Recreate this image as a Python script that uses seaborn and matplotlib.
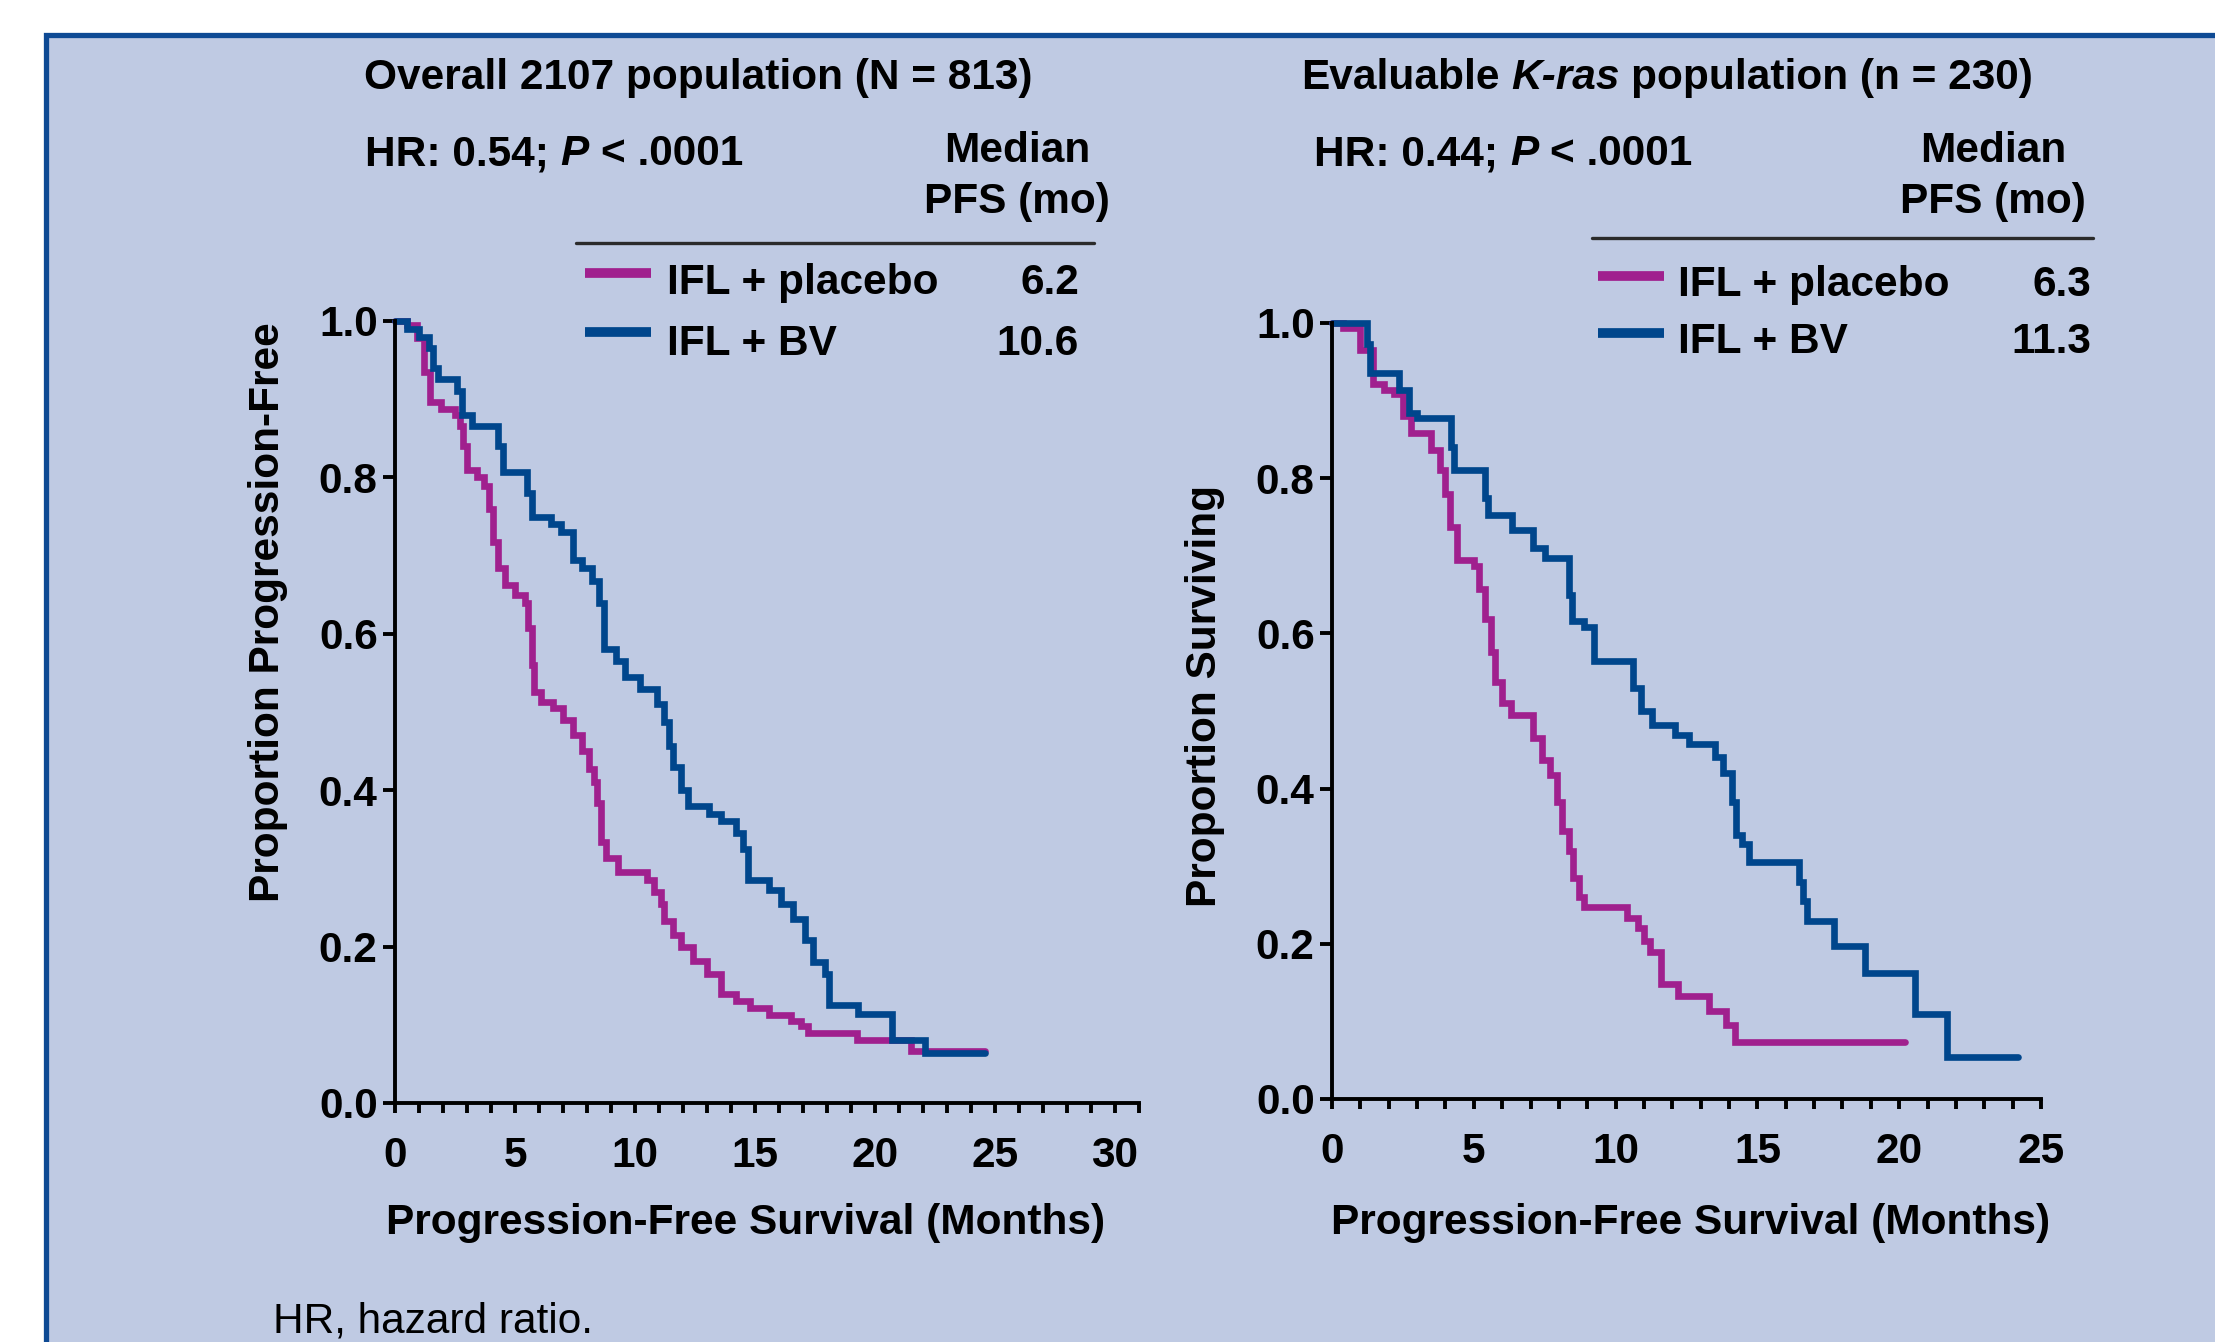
import matplotlib
matplotlib.use("Agg")
import matplotlib.pyplot as plt
import seaborn as sns
import pandas as pd
from matplotlib.patches import Rectangle
from matplotlib.lines import Line2D
from matplotlib.ticker import MultipleLocator, FormatStrFormatter

# ---------------- data ----------------
arm_labels = ["IFL + placebo", "IFL + BV"]

# Overall 2107 population (N = 813)
overall_placebo_t = [0, 0.5, 0.9, 1.2, 1.45, 1.9, 2.5, 2.7, 2.85, 3.0, 3.4, 3.7, 3.9, 4.1, 4.3, 4.6,
                     5.0, 5.4, 5.55, 5.7, 5.8, 6.1, 6.6, 7.0, 7.4, 7.8, 8.1, 8.3, 8.4, 8.6, 8.8, 9.3,
                     10.5, 10.8, 11.1, 11.2, 11.6, 11.9, 12.4, 13.0, 13.6, 14.2, 14.8, 15.6, 16.5,
                     16.9, 17.2, 19.25, 21.5, 24.6]
overall_placebo_s = [1.0, 0.995, 0.978, 0.935, 0.897, 0.888, 0.88, 0.866, 0.84, 0.81, 0.80, 0.789,
                     0.76, 0.718, 0.684, 0.663, 0.65, 0.64, 0.608, 0.56, 0.526, 0.513, 0.505, 0.49,
                     0.47, 0.45, 0.427, 0.41, 0.384, 0.334, 0.313, 0.296, 0.285, 0.27, 0.255, 0.233,
                     0.215, 0.2, 0.182, 0.165, 0.14, 0.13, 0.121, 0.113, 0.105, 0.098, 0.09, 0.08,
                     0.067, 0.067]
overall_bv_t = [0, 0.5, 1.0, 1.4, 1.6, 1.8, 2.6, 2.8, 3.2, 4.3, 4.5, 5.5, 5.7, 6.5, 6.9, 7.4, 7.8,
                8.2, 8.5, 8.7, 9.2, 9.6, 10.2, 10.9, 11.2, 11.4, 11.6, 11.9, 12.2, 13.1, 13.6, 14.2,
                14.5, 14.7, 15.6, 16.1, 16.6, 17.1, 17.4, 17.9, 18.1, 19.3, 20.7, 22.1, 24.6]
overall_bv_s = [1.0, 0.99, 0.98, 0.965, 0.94, 0.926, 0.91, 0.88, 0.866, 0.84, 0.807, 0.78, 0.75,
                0.74, 0.73, 0.695, 0.684, 0.667, 0.64, 0.58, 0.565, 0.545, 0.53, 0.51, 0.487, 0.456,
                0.43, 0.40, 0.38, 0.37, 0.36, 0.345, 0.325, 0.285, 0.273, 0.254, 0.235, 0.208, 0.18,
                0.165, 0.125, 0.114, 0.08, 0.064, 0.064]

# Evaluable K-ras population (n = 230)
kras_placebo_t = [0, 0.4, 1.0, 1.45, 1.85, 2.2, 2.5, 2.8, 3.5, 3.8, 4.0, 4.15, 4.4, 5.0, 5.2, 5.4,
                  5.6, 5.75, 6.0, 6.3, 7.1, 7.4, 7.7, 7.95, 8.1, 8.35, 8.5, 8.7, 8.9, 10.4, 10.8,
                  11.0, 11.2, 11.6, 12.2, 13.3, 13.9, 14.2, 20.2]
kras_placebo_s = [1.0, 0.993, 0.965, 0.922, 0.914, 0.909, 0.88, 0.858, 0.836, 0.811, 0.78, 0.737,
                  0.695, 0.687, 0.657, 0.618, 0.576, 0.537, 0.51, 0.495, 0.465, 0.437, 0.418, 0.383,
                  0.345, 0.32, 0.285, 0.26, 0.248, 0.233, 0.22, 0.203, 0.19, 0.148, 0.133, 0.113,
                  0.096, 0.073, 0.073]
kras_bv_t = [0, 1.25, 1.35, 2.35, 2.7, 3.0, 4.2, 4.3, 5.4, 5.5, 6.35, 7.1, 7.5, 8.35, 8.45, 8.9,
             9.25, 10.6, 10.9, 11.3, 12.1, 12.6, 13.5, 13.8, 14.1, 14.25, 14.45, 14.7, 16.45, 16.6,
             16.75, 17.7, 18.8, 20.55, 21.7, 24.2]
kras_bv_s = [1.0, 0.973, 0.935, 0.914, 0.884, 0.877, 0.84, 0.81, 0.775, 0.752, 0.733, 0.71, 0.697,
             0.65, 0.616, 0.608, 0.565, 0.53, 0.5, 0.482, 0.469, 0.458, 0.441, 0.42, 0.383, 0.34,
             0.328, 0.306, 0.28, 0.255, 0.229, 0.197, 0.163, 0.11, 0.054, 0.054]

overall_medians = ["6.2", "10.6"]
kras_medians = ["6.3", "11.3"]
y_ticks = [0.0, 0.2, 0.4, 0.6, 0.8, 1.0]

# ---------------- style ----------------
W, H = 2215, 1342
BG = "#BFCAE3"
BORDER = "#0E4A94"
MAGENTA = "#A0208E"
BLUE = "#00468C"
FS = 30.5
CURVE_LW = 4.8
AX_LW = 2.8

sns.set_theme(style="ticks")
plt.rcParams["font.family"] = ["Liberation Sans", "DejaVu Sans"]
plt.rcParams["font.weight"] = "bold"

fig = plt.figure(figsize=(W / 100, H / 100), dpi=100)
fig.patch.set_facecolor("white")

def fx(x):
    return x / W

def fy(y):
    return 1 - y / H

bg = Rectangle((fx(46), -0.2), 2.0, fy(35) + 0.2, transform=fig.transFigure,
               facecolor=BG, edgecolor=BORDER, linewidth=3.8, zorder=-10)
fig.add_artist(bg)

def make_axes(x0, x1, ytop, ybot, xmax, t_p, s_p, t_b, s_b):
    ax = fig.add_axes([fx(x0), fy(ybot), fx(x1) - fx(x0), fy(ytop) - fy(ybot)])
    ax.set_facecolor("none")
    df = pd.concat([
        pd.DataFrame({"t": t_p, "s": s_p, "arm": arm_labels[0]}),
        pd.DataFrame({"t": t_b, "s": s_b, "arm": arm_labels[1]}),
    ])
    sns.lineplot(data=df, x="t", y="s", hue="arm", palette=[MAGENTA, BLUE], ax=ax,
                 estimator=None, sort=False, drawstyle="steps-post", linewidth=CURVE_LW,
                 legend=False, clip_on=False, solid_joinstyle="miter")
    ax.set_xlim(0, xmax)
    ax.set_ylim(0, 1.0)
    for side in ["top", "right"]:
        ax.spines[side].set_visible(False)
    for side in ["left", "bottom"]:
        ax.spines[side].set_color("black")
        ax.spines[side].set_linewidth(AX_LW)
    ax.xaxis.set_major_locator(MultipleLocator(5))
    ax.xaxis.set_minor_locator(MultipleLocator(1))
    ax.set_yticks(y_ticks)
    ax.yaxis.set_major_formatter(FormatStrFormatter("%.1f"))
    ax.tick_params(axis="x", which="both", length=7.5, width=AX_LW, color="black",
                   direction="out", pad=16, labelsize=FS)
    ax.tick_params(axis="y", which="major", length=8.5, width=AX_LW, color="black",
                   direction="out", pad=4, labelsize=FS)
    for lab in ax.get_xticklabels() + ax.get_yticklabels():
        lab.set_fontweight("bold")
        lab.set_color("black")
    ax.set_xlabel("")
    ax.set_ylabel("")
    return ax

# left axis runs one minor tick past 30 (to 31 months)
ax1 = make_axes(395, 395 + 31 * 24.0, 321, 1103, 31, overall_placebo_t, overall_placebo_s,
                overall_bv_t, overall_bv_s)
ax2 = make_axes(1332, 2041, 323, 1099, 25, kras_placebo_t, kras_placebo_s,
                kras_bv_t, kras_bv_s)

renderer = fig.canvas.get_renderer()
SP = 0.278 * FS * 100 / 72  # width of a space in px

def rich(x, y, runs, ha="left"):
    """runs: list of (text, style); spaces inserted between runs."""
    widths = []
    for s, st in runs:
        t = fig.text(0, 0, s, fontsize=FS, fontweight="bold", fontstyle=st)
        widths.append(t.get_window_extent(renderer).width)
        t.remove()
    total = sum(widths) + SP * (len(runs) - 1)
    cx = x if ha == "left" else x - total / 2
    for (s, st), w in zip(runs, widths):
        fig.text(fx(cx), fy(y), s, fontsize=FS, fontweight="bold", fontstyle=st,
                 ha="left", va="baseline", color="black")
        cx += w + SP

def txt(x, y, s, ha="left", va="baseline", **kw):
    kw.setdefault("fontsize", FS)
    kw.setdefault("fontweight", "bold")
    fig.text(fx(x), fy(y), s, ha=ha, va=va, color="black", **kw)

# titles
txt(698, 89, "Overall 2107 population (N = 813)", ha="center")
rich(1667, 89, [("Evaluable", "normal"), ("K-ras", "italic"), ("population (n = 230)", "normal")],
     ha="center")

# HR lines
rich(365, 165, [("HR: 0.54;", "normal"), ("P", "italic"), ("< .0001", "normal")])
rich(1314, 165, [("HR: 0.44;", "normal"), ("P", "italic"), ("< .0001", "normal")])

# Median PFS headers
for cxm in (1017, 1993):
    txt(cxm, 162, "Median", ha="center")
    txt(cxm, 213, "PFS (mo)", ha="center")

# separator lines
fig.add_artist(Line2D([fx(576), fx(1094)], [fy(243), fy(243)], color="#2B2B2B", lw=2.4))
fig.add_artist(Line2D([fx(1592), fx(2093)], [fy(238), fy(238)], color="#2B2B2B", lw=2.4))

# legends
def legend_block(lx0, lx1, tx, vx, ys, medians):
    for (yl, yt), col, lab, med in zip(ys, [MAGENTA, BLUE], arm_labels, medians):
        fig.add_artist(Line2D([fx(lx0), fx(lx1)], [fy(yl), fy(yl)], color=col, lw=7.0,
                              solid_capstyle="butt"))
        txt(tx, yt, lab)
        txt(vx, yt, med, ha="right")

legend_block(585, 651, 667, 1079, [(273, 294), (332, 355)], overall_medians)
legend_block(1598, 1664, 1678, 2091, [(276, 296), (333, 353)], kras_medians)

# axis labels
txt(268, 612, "Proportion Progression-Free", ha="center", va="center", rotation=90)
txt(1205, 696, "Proportion Surviving", ha="center", va="center", rotation=90)
txt(746, 1223, "Progression-Free Survival (Months)", ha="center", va="center")
txt(1691, 1223, "Progression-Free Survival (Months)", ha="center", va="center")

# footnote
txt(273, 1333, "HR, hazard ratio.", fontweight="normal")

fig.savefig("out.png", dpi=100, facecolor="white")
